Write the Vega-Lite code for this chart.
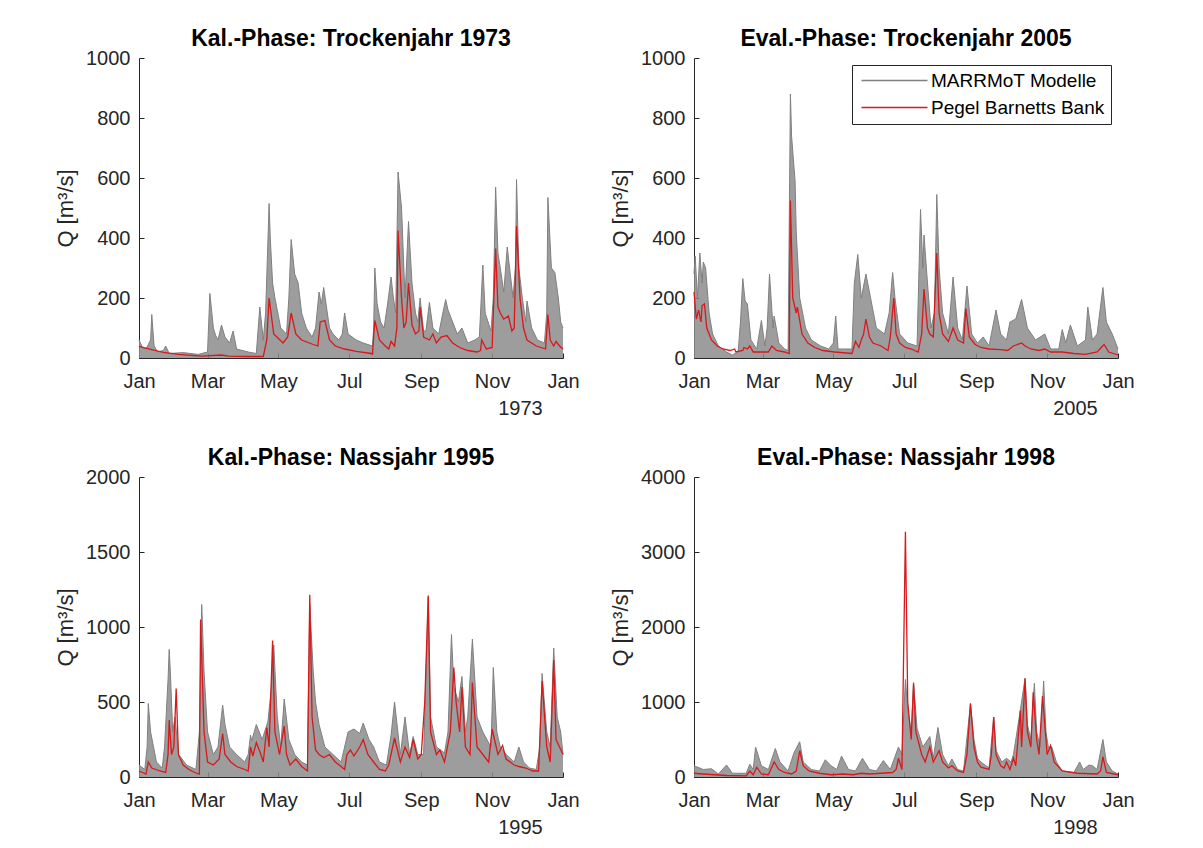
{
  "$schema": "https://vega.github.io/schema/vega-lite/v6.json",
  "autosize": {"type": "pad"},
  "padding": {"left": 54, "top": 28, "right": 10, "bottom": 10},
  "background": "white",
  "config": {
    "font": "Liberation Sans",
    "view": {"stroke": null},
    "axis": {
      "domainColor": "#262626", "tickColor": "#262626", "labelColor": "#262626", "titleColor": "#262626",
      "labelFont": "Liberation Sans", "labelFontSize": 20, "titleFont": "Liberation Sans", "titleFontSize": 22,
      "titleFontWeight": "normal", "grid": false, "tickSize": -5, "domainWidth": 1, "tickWidth": 1
    },
    "axisX": {"labelPadding": 18, "titleFontSize": 20, "titlePadding": 7, "titleX": 381, "titleAlign": "center", "labelFlush": false},
    "axisY": {"labelPadding": 14, "titlePadding": 8},
    "title": {"font": "Liberation Sans", "fontSize": 23, "fontWeight": "bold", "color": "#000000", "offset": -3, "frame": "group"}
  },
  "datasets": {
    "pegel": [
      {"jahr":1973,"tag":0,"q":39},{"jahr":1973,"tag":11,"q":28},{"jahr":1973,"tag":21,"q":19},{"jahr":1973,"tag":34,"q":12},{"jahr":1973,"tag":54,"q":6},{"jahr":1973,"tag":71,"q":10},{"jahr":1973,"tag":77,"q":6},{"jahr":1973,"tag":94,"q":5},{"jahr":1973,"tag":107,"q":5},{"jahr":1973,"tag":110,"q":60},{"jahr":1973,"tag":112,"q":200},{"jahr":1973,"tag":116,"q":80},{"jahr":1973,"tag":124,"q":50},{"jahr":1973,"tag":128,"q":70},{"jahr":1973,"tag":131,"q":150},{"jahr":1973,"tag":135,"q":80},{"jahr":1973,"tag":140,"q":60},{"jahr":1973,"tag":150,"q":45},{"jahr":1973,"tag":154,"q":40},{"jahr":1973,"tag":156,"q":120},{"jahr":1973,"tag":160,"q":125},{"jahr":1973,"tag":164,"q":60},{"jahr":1973,"tag":169,"q":40},{"jahr":1973,"tag":177,"q":30},{"jahr":1973,"tag":187,"q":22},{"jahr":1973,"tag":200,"q":15},{"jahr":1973,"tag":201,"q":13},{"jahr":1973,"tag":203,"q":125},{"jahr":1973,"tag":207,"q":60},{"jahr":1973,"tag":212,"q":40},{"jahr":1973,"tag":215,"q":30},{"jahr":1973,"tag":217,"q":55},{"jahr":1973,"tag":220,"q":40},{"jahr":1973,"tag":222,"q":100},{"jahr":1973,"tag":223,"q":425},{"jahr":1973,"tag":226,"q":200},{"jahr":1973,"tag":228,"q":100},{"jahr":1973,"tag":230,"q":120},{"jahr":1973,"tag":232,"q":250},{"jahr":1973,"tag":235,"q":110},{"jahr":1973,"tag":238,"q":80},{"jahr":1973,"tag":241,"q":90},{"jahr":1973,"tag":242,"q":170},{"jahr":1973,"tag":245,"q":70},{"jahr":1973,"tag":250,"q":60},{"jahr":1973,"tag":253,"q":80},{"jahr":1973,"tag":256,"q":50},{"jahr":1973,"tag":260,"q":70},{"jahr":1973,"tag":265,"q":75},{"jahr":1973,"tag":270,"q":50},{"jahr":1973,"tag":276,"q":35},{"jahr":1973,"tag":283,"q":25},{"jahr":1973,"tag":291,"q":20},{"jahr":1973,"tag":294,"q":25},{"jahr":1973,"tag":295,"q":60},{"jahr":1973,"tag":299,"q":30},{"jahr":1973,"tag":304,"q":35},{"jahr":1973,"tag":307,"q":365},{"jahr":1973,"tag":309,"q":170},{"jahr":1973,"tag":311,"q":150},{"jahr":1973,"tag":314,"q":130},{"jahr":1973,"tag":318,"q":140},{"jahr":1973,"tag":321,"q":90},{"jahr":1973,"tag":323,"q":100},{"jahr":1973,"tag":325,"q":440},{"jahr":1973,"tag":328,"q":200},{"jahr":1973,"tag":331,"q":100},{"jahr":1973,"tag":334,"q":60},{"jahr":1973,"tag":342,"q":40},{"jahr":1973,"tag":350,"q":30},{"jahr":1973,"tag":352,"q":145},{"jahr":1973,"tag":354,"q":60},{"jahr":1973,"tag":357,"q":40},{"jahr":1973,"tag":359,"q":55},{"jahr":1973,"tag":362,"q":40},{"jahr":1973,"tag":365,"q":30},
      {"jahr":2005,"tag":0,"q":220},{"jahr":2005,"tag":2,"q":130},{"jahr":2005,"tag":4,"q":160},{"jahr":2005,"tag":6,"q":120},{"jahr":2005,"tag":7,"q":175},{"jahr":2005,"tag":9,"q":180},{"jahr":2005,"tag":11,"q":100},{"jahr":2005,"tag":15,"q":60},{"jahr":2005,"tag":20,"q":40},{"jahr":2005,"tag":25,"q":30},{"jahr":2005,"tag":31,"q":25},{"jahr":2005,"tag":35,"q":30},{"jahr":2005,"tag":36,"q":20},{"jahr":2005,"tag":42,"q":25},{"jahr":2005,"tag":43,"q":35},{"jahr":2005,"tag":46,"q":30},{"jahr":2005,"tag":48,"q":40},{"jahr":2005,"tag":51,"q":20},{"jahr":2005,"tag":64,"q":20},{"jahr":2005,"tag":67,"q":40},{"jahr":2005,"tag":71,"q":25},{"jahr":2005,"tag":78,"q":20},{"jahr":2005,"tag":82,"q":15},{"jahr":2005,"tag":83,"q":525},{"jahr":2005,"tag":85,"q":200},{"jahr":2005,"tag":88,"q":150},{"jahr":2005,"tag":89,"q":170},{"jahr":2005,"tag":93,"q":80},{"jahr":2005,"tag":98,"q":50},{"jahr":2005,"tag":104,"q":35},{"jahr":2005,"tag":111,"q":25},{"jahr":2005,"tag":121,"q":20},{"jahr":2005,"tag":136,"q":15},{"jahr":2005,"tag":139,"q":55},{"jahr":2005,"tag":142,"q":35},{"jahr":2005,"tag":144,"q":60},{"jahr":2005,"tag":146,"q":80},{"jahr":2005,"tag":148,"q":130},{"jahr":2005,"tag":151,"q":70},{"jahr":2005,"tag":154,"q":50},{"jahr":2005,"tag":161,"q":40},{"jahr":2005,"tag":167,"q":25},{"jahr":2005,"tag":169,"q":70},{"jahr":2005,"tag":172,"q":200},{"jahr":2005,"tag":174,"q":80},{"jahr":2005,"tag":177,"q":50},{"jahr":2005,"tag":182,"q":35},{"jahr":2005,"tag":187,"q":30},{"jahr":2005,"tag":193,"q":20},{"jahr":2005,"tag":196,"q":80},{"jahr":2005,"tag":198,"q":230},{"jahr":2005,"tag":201,"q":100},{"jahr":2005,"tag":203,"q":80},{"jahr":2005,"tag":206,"q":70},{"jahr":2005,"tag":209,"q":350},{"jahr":2005,"tag":211,"q":150},{"jahr":2005,"tag":214,"q":80},{"jahr":2005,"tag":219,"q":55},{"jahr":2005,"tag":223,"q":100},{"jahr":2005,"tag":227,"q":60},{"jahr":2005,"tag":232,"q":50},{"jahr":2005,"tag":234,"q":165},{"jahr":2005,"tag":237,"q":70},{"jahr":2005,"tag":242,"q":45},{"jahr":2005,"tag":247,"q":35},{"jahr":2005,"tag":254,"q":30},{"jahr":2005,"tag":264,"q":28},{"jahr":2005,"tag":270,"q":25},{"jahr":2005,"tag":275,"q":40},{"jahr":2005,"tag":282,"q":50},{"jahr":2005,"tag":285,"q":40},{"jahr":2005,"tag":290,"q":30},{"jahr":2005,"tag":297,"q":25},{"jahr":2005,"tag":302,"q":30},{"jahr":2005,"tag":307,"q":20},{"jahr":2005,"tag":317,"q":20},{"jahr":2005,"tag":327,"q":15},{"jahr":2005,"tag":337,"q":12},{"jahr":2005,"tag":347,"q":20},{"jahr":2005,"tag":353,"q":45},{"jahr":2005,"tag":357,"q":20},{"jahr":2005,"tag":365,"q":10},
      {"jahr":1995,"tag":0,"q":40},{"jahr":1995,"tag":3,"q":30},{"jahr":1995,"tag":6,"q":20},{"jahr":1995,"tag":8,"q":100},{"jahr":1995,"tag":11,"q":60},{"jahr":1995,"tag":18,"q":40},{"jahr":1995,"tag":23,"q":30},{"jahr":1995,"tag":25,"q":150},{"jahr":1995,"tag":26,"q":380},{"jahr":1995,"tag":28,"q":150},{"jahr":1995,"tag":30,"q":200},{"jahr":1995,"tag":32,"q":590},{"jahr":1995,"tag":34,"q":150},{"jahr":1995,"tag":38,"q":80},{"jahr":1995,"tag":43,"q":50},{"jahr":1995,"tag":48,"q":30},{"jahr":1995,"tag":52,"q":20},{"jahr":1995,"tag":53,"q":1050},{"jahr":1995,"tag":56,"q":300},{"jahr":1995,"tag":59,"q":100},{"jahr":1995,"tag":64,"q":80},{"jahr":1995,"tag":69,"q":120},{"jahr":1995,"tag":72,"q":290},{"jahr":1995,"tag":74,"q":150},{"jahr":1995,"tag":79,"q":100},{"jahr":1995,"tag":84,"q":70},{"jahr":1995,"tag":91,"q":50},{"jahr":1995,"tag":94,"q":40},{"jahr":1995,"tag":96,"q":200},{"jahr":1995,"tag":98,"q":140},{"jahr":1995,"tag":101,"q":230},{"jahr":1995,"tag":104,"q":170},{"jahr":1995,"tag":107,"q":100},{"jahr":1995,"tag":110,"q":330},{"jahr":1995,"tag":112,"q":200},{"jahr":1995,"tag":115,"q":910},{"jahr":1995,"tag":117,"q":300},{"jahr":1995,"tag":121,"q":150},{"jahr":1995,"tag":125,"q":340},{"jahr":1995,"tag":127,"q":150},{"jahr":1995,"tag":130,"q":80},{"jahr":1995,"tag":135,"q":120},{"jahr":1995,"tag":140,"q":70},{"jahr":1995,"tag":145,"q":40},{"jahr":1995,"tag":147,"q":1215},{"jahr":1995,"tag":149,"q":400},{"jahr":1995,"tag":152,"q":180},{"jahr":1995,"tag":155,"q":150},{"jahr":1995,"tag":159,"q":130},{"jahr":1995,"tag":164,"q":150},{"jahr":1995,"tag":169,"q":100},{"jahr":1995,"tag":174,"q":70},{"jahr":1995,"tag":177,"q":50},{"jahr":1995,"tag":179,"q":150},{"jahr":1995,"tag":182,"q":180},{"jahr":1995,"tag":185,"q":140},{"jahr":1995,"tag":190,"q":200},{"jahr":1995,"tag":193,"q":250},{"jahr":1995,"tag":197,"q":150},{"jahr":1995,"tag":202,"q":100},{"jahr":1995,"tag":207,"q":50},{"jahr":1995,"tag":212,"q":40},{"jahr":1995,"tag":215,"q":80},{"jahr":1995,"tag":220,"q":260},{"jahr":1995,"tag":225,"q":100},{"jahr":1995,"tag":229,"q":200},{"jahr":1995,"tag":233,"q":130},{"jahr":1995,"tag":236,"q":250},{"jahr":1995,"tag":240,"q":120},{"jahr":1995,"tag":243,"q":150},{"jahr":1995,"tag":246,"q":500},{"jahr":1995,"tag":249,"q":1210},{"jahr":1995,"tag":251,"q":300},{"jahr":1995,"tag":256,"q":150},{"jahr":1995,"tag":259,"q":180},{"jahr":1995,"tag":263,"q":100},{"jahr":1995,"tag":268,"q":300},{"jahr":1995,"tag":271,"q":730},{"jahr":1995,"tag":273,"q":500},{"jahr":1995,"tag":276,"q":300},{"jahr":1995,"tag":278,"q":600},{"jahr":1995,"tag":281,"q":200},{"jahr":1995,"tag":285,"q":150},{"jahr":1995,"tag":287,"q":630},{"jahr":1995,"tag":291,"q":200},{"jahr":1995,"tag":296,"q":150},{"jahr":1995,"tag":301,"q":100},{"jahr":1995,"tag":304,"q":320},{"jahr":1995,"tag":306,"q":250},{"jahr":1995,"tag":309,"q":150},{"jahr":1995,"tag":313,"q":210},{"jahr":1995,"tag":316,"q":120},{"jahr":1995,"tag":323,"q":80},{"jahr":1995,"tag":327,"q":70},{"jahr":1995,"tag":333,"q":60},{"jahr":1995,"tag":339,"q":40},{"jahr":1995,"tag":344,"q":40},{"jahr":1995,"tag":347,"q":640},{"jahr":1995,"tag":351,"q":200},{"jahr":1995,"tag":354,"q":100},{"jahr":1995,"tag":357,"q":780},{"jahr":1995,"tag":359,"q":250},{"jahr":1995,"tag":362,"q":200},{"jahr":1995,"tag":365,"q":150},
      {"jahr":1998,"tag":0,"q":50},{"jahr":1998,"tag":8,"q":40},{"jahr":1998,"tag":18,"q":30},{"jahr":1998,"tag":28,"q":20},{"jahr":1998,"tag":45,"q":15},{"jahr":1998,"tag":48,"q":80},{"jahr":1998,"tag":51,"q":30},{"jahr":1998,"tag":54,"q":130},{"jahr":1998,"tag":58,"q":40},{"jahr":1998,"tag":64,"q":30},{"jahr":1998,"tag":69,"q":200},{"jahr":1998,"tag":73,"q":100},{"jahr":1998,"tag":78,"q":60},{"jahr":1998,"tag":84,"q":40},{"jahr":1998,"tag":88,"q":80},{"jahr":1998,"tag":91,"q":350},{"jahr":1998,"tag":94,"q":150},{"jahr":1998,"tag":99,"q":80},{"jahr":1998,"tag":108,"q":50},{"jahr":1998,"tag":118,"q":30},{"jahr":1998,"tag":128,"q":40},{"jahr":1998,"tag":137,"q":30},{"jahr":1998,"tag":144,"q":50},{"jahr":1998,"tag":151,"q":40},{"jahr":1998,"tag":161,"q":50},{"jahr":1998,"tag":171,"q":60},{"jahr":1998,"tag":174,"q":100},{"jahr":1998,"tag":176,"q":250},{"jahr":1998,"tag":179,"q":100},{"jahr":1998,"tag":182,"q":3270},{"jahr":1998,"tag":184,"q":1000},{"jahr":1998,"tag":187,"q":500},{"jahr":1998,"tag":189,"q":1250},{"jahr":1998,"tag":191,"q":600},{"jahr":1998,"tag":196,"q":300},{"jahr":1998,"tag":199,"q":200},{"jahr":1998,"tag":203,"q":400},{"jahr":1998,"tag":206,"q":200},{"jahr":1998,"tag":211,"q":350},{"jahr":1998,"tag":214,"q":200},{"jahr":1998,"tag":219,"q":120},{"jahr":1998,"tag":222,"q":150},{"jahr":1998,"tag":227,"q":80},{"jahr":1998,"tag":232,"q":60},{"jahr":1998,"tag":235,"q":300},{"jahr":1998,"tag":238,"q":980},{"jahr":1998,"tag":241,"q":400},{"jahr":1998,"tag":244,"q":200},{"jahr":1998,"tag":247,"q":130},{"jahr":1998,"tag":254,"q":100},{"jahr":1998,"tag":256,"q":300},{"jahr":1998,"tag":258,"q":800},{"jahr":1998,"tag":260,"q":300},{"jahr":1998,"tag":264,"q":150},{"jahr":1998,"tag":267,"q":120},{"jahr":1998,"tag":269,"q":200},{"jahr":1998,"tag":272,"q":100},{"jahr":1998,"tag":275,"q":250},{"jahr":1998,"tag":277,"q":150},{"jahr":1998,"tag":281,"q":890},{"jahr":1998,"tag":282,"q":400},{"jahr":1998,"tag":285,"q":1310},{"jahr":1998,"tag":287,"q":600},{"jahr":1998,"tag":290,"q":400},{"jahr":1998,"tag":292,"q":1130},{"jahr":1998,"tag":295,"q":500},{"jahr":1998,"tag":297,"q":300},{"jahr":1998,"tag":300,"q":1080},{"jahr":1998,"tag":303,"q":500},{"jahr":1998,"tag":304,"q":300},{"jahr":1998,"tag":307,"q":420},{"jahr":1998,"tag":310,"q":200},{"jahr":1998,"tag":317,"q":80},{"jahr":1998,"tag":330,"q":50},{"jahr":1998,"tag":347,"q":40},{"jahr":1998,"tag":350,"q":80},{"jahr":1998,"tag":352,"q":270},{"jahr":1998,"tag":355,"q":60},{"jahr":1998,"tag":365,"q":30}
    ],
    "modelle": [
      {"jahr":1973,"tag":0,"q":60},{"jahr":1973,"tag":3,"q":35},{"jahr":1973,"tag":6,"q":30},{"jahr":1973,"tag":10,"q":60},{"jahr":1973,"tag":11,"q":145},{"jahr":1973,"tag":13,"q":40},{"jahr":1973,"tag":16,"q":20},{"jahr":1973,"tag":21,"q":25},{"jahr":1973,"tag":23,"q":40},{"jahr":1973,"tag":26,"q":15},{"jahr":1973,"tag":38,"q":18},{"jahr":1973,"tag":51,"q":12},{"jahr":1973,"tag":59,"q":20},{"jahr":1973,"tag":61,"q":215},{"jahr":1973,"tag":64,"q":100},{"jahr":1973,"tag":66,"q":75},{"jahr":1973,"tag":68,"q":60},{"jahr":1973,"tag":71,"q":110},{"jahr":1973,"tag":74,"q":70},{"jahr":1973,"tag":78,"q":50},{"jahr":1973,"tag":81,"q":90},{"jahr":1973,"tag":84,"q":30},{"jahr":1973,"tag":94,"q":20},{"jahr":1973,"tag":101,"q":15},{"jahr":1973,"tag":104,"q":170},{"jahr":1973,"tag":107,"q":60},{"jahr":1973,"tag":109,"q":150},{"jahr":1973,"tag":112,"q":515},{"jahr":1973,"tag":113,"q":400},{"jahr":1973,"tag":115,"q":250},{"jahr":1973,"tag":117,"q":200},{"jahr":1973,"tag":122,"q":100},{"jahr":1973,"tag":127,"q":80},{"jahr":1973,"tag":129,"q":200},{"jahr":1973,"tag":131,"q":395},{"jahr":1973,"tag":134,"q":280},{"jahr":1973,"tag":137,"q":250},{"jahr":1973,"tag":140,"q":150},{"jahr":1973,"tag":144,"q":100},{"jahr":1973,"tag":149,"q":70},{"jahr":1973,"tag":152,"q":100},{"jahr":1973,"tag":155,"q":220},{"jahr":1973,"tag":157,"q":180},{"jahr":1973,"tag":159,"q":235},{"jahr":1973,"tag":161,"q":180},{"jahr":1973,"tag":164,"q":100},{"jahr":1973,"tag":167,"q":80},{"jahr":1973,"tag":172,"q":60},{"jahr":1973,"tag":175,"q":80},{"jahr":1973,"tag":177,"q":150},{"jahr":1973,"tag":180,"q":80},{"jahr":1973,"tag":187,"q":60},{"jahr":1973,"tag":193,"q":50},{"jahr":1973,"tag":201,"q":40},{"jahr":1973,"tag":202,"q":100},{"jahr":1973,"tag":203,"q":300},{"jahr":1973,"tag":205,"q":180},{"jahr":1973,"tag":208,"q":120},{"jahr":1973,"tag":211,"q":100},{"jahr":1973,"tag":214,"q":180},{"jahr":1973,"tag":217,"q":270},{"jahr":1973,"tag":219,"q":200},{"jahr":1973,"tag":221,"q":150},{"jahr":1973,"tag":223,"q":620},{"jahr":1973,"tag":226,"q":500},{"jahr":1973,"tag":228,"q":300},{"jahr":1973,"tag":229,"q":200},{"jahr":1973,"tag":232,"q":455},{"jahr":1973,"tag":235,"q":250},{"jahr":1973,"tag":238,"q":150},{"jahr":1973,"tag":240,"q":120},{"jahr":1973,"tag":242,"q":200},{"jahr":1973,"tag":245,"q":90},{"jahr":1973,"tag":247,"q":90},{"jahr":1973,"tag":250,"q":185},{"jahr":1973,"tag":253,"q":100},{"jahr":1973,"tag":258,"q":80},{"jahr":1973,"tag":261,"q":140},{"jahr":1973,"tag":264,"q":195},{"jahr":1973,"tag":266,"q":160},{"jahr":1973,"tag":270,"q":120},{"jahr":1973,"tag":274,"q":80},{"jahr":1973,"tag":278,"q":100},{"jahr":1973,"tag":283,"q":50},{"jahr":1973,"tag":289,"q":60},{"jahr":1973,"tag":293,"q":70},{"jahr":1973,"tag":296,"q":310},{"jahr":1973,"tag":298,"q":150},{"jahr":1973,"tag":303,"q":90},{"jahr":1973,"tag":305,"q":200},{"jahr":1973,"tag":307,"q":570},{"jahr":1973,"tag":309,"q":350},{"jahr":1973,"tag":311,"q":300},{"jahr":1973,"tag":314,"q":220},{"jahr":1973,"tag":317,"q":370},{"jahr":1973,"tag":319,"q":300},{"jahr":1973,"tag":322,"q":200},{"jahr":1973,"tag":324,"q":300},{"jahr":1973,"tag":325,"q":595},{"jahr":1973,"tag":327,"q":300},{"jahr":1973,"tag":330,"q":200},{"jahr":1973,"tag":333,"q":120},{"jahr":1973,"tag":334,"q":190},{"jahr":1973,"tag":338,"q":100},{"jahr":1973,"tag":343,"q":60},{"jahr":1973,"tag":349,"q":50},{"jahr":1973,"tag":351,"q":150},{"jahr":1973,"tag":352,"q":535},{"jahr":1973,"tag":355,"q":300},{"jahr":1973,"tag":358,"q":285},{"jahr":1973,"tag":361,"q":200},{"jahr":1973,"tag":363,"q":120},{"jahr":1973,"tag":365,"q":100},
      {"jahr":2005,"tag":0,"q":280},{"jahr":2005,"tag":1,"q":340},{"jahr":2005,"tag":3,"q":200},{"jahr":2005,"tag":5,"q":350},{"jahr":2005,"tag":7,"q":250},{"jahr":2005,"tag":8,"q":320},{"jahr":2005,"tag":10,"q":300},{"jahr":2005,"tag":13,"q":150},{"jahr":2005,"tag":16,"q":80},{"jahr":2005,"tag":21,"q":40},{"jahr":2005,"tag":28,"q":20},{"jahr":2005,"tag":33,"q":10},{"jahr":2005,"tag":38,"q":20},{"jahr":2005,"tag":40,"q":120},{"jahr":2005,"tag":42,"q":265},{"jahr":2005,"tag":44,"q":190},{"jahr":2005,"tag":46,"q":180},{"jahr":2005,"tag":49,"q":60},{"jahr":2005,"tag":54,"q":30},{"jahr":2005,"tag":58,"q":125},{"jahr":2005,"tag":61,"q":40},{"jahr":2005,"tag":63,"q":100},{"jahr":2005,"tag":65,"q":280},{"jahr":2005,"tag":68,"q":100},{"jahr":2005,"tag":69,"q":140},{"jahr":2005,"tag":73,"q":50},{"jahr":2005,"tag":78,"q":30},{"jahr":2005,"tag":81,"q":25},{"jahr":2005,"tag":83,"q":880},{"jahr":2005,"tag":84,"q":740},{"jahr":2005,"tag":87,"q":590},{"jahr":2005,"tag":88,"q":420},{"jahr":2005,"tag":91,"q":200},{"jahr":2005,"tag":96,"q":100},{"jahr":2005,"tag":101,"q":60},{"jahr":2005,"tag":109,"q":40},{"jahr":2005,"tag":116,"q":30},{"jahr":2005,"tag":120,"q":50},{"jahr":2005,"tag":122,"q":140},{"jahr":2005,"tag":124,"q":30},{"jahr":2005,"tag":136,"q":30},{"jahr":2005,"tag":138,"q":250},{"jahr":2005,"tag":141,"q":345},{"jahr":2005,"tag":144,"q":200},{"jahr":2005,"tag":148,"q":280},{"jahr":2005,"tag":152,"q":200},{"jahr":2005,"tag":157,"q":100},{"jahr":2005,"tag":164,"q":80},{"jahr":2005,"tag":168,"q":150},{"jahr":2005,"tag":171,"q":285},{"jahr":2005,"tag":173,"q":200},{"jahr":2005,"tag":177,"q":80},{"jahr":2005,"tag":184,"q":50},{"jahr":2005,"tag":192,"q":40},{"jahr":2005,"tag":195,"q":495},{"jahr":2005,"tag":197,"q":300},{"jahr":2005,"tag":198,"q":410},{"jahr":2005,"tag":201,"q":250},{"jahr":2005,"tag":204,"q":100},{"jahr":2005,"tag":207,"q":150},{"jahr":2005,"tag":209,"q":545},{"jahr":2005,"tag":211,"q":300},{"jahr":2005,"tag":214,"q":150},{"jahr":2005,"tag":219,"q":80},{"jahr":2005,"tag":223,"q":270},{"jahr":2005,"tag":227,"q":100},{"jahr":2005,"tag":231,"q":60},{"jahr":2005,"tag":235,"q":240},{"jahr":2005,"tag":239,"q":80},{"jahr":2005,"tag":244,"q":50},{"jahr":2005,"tag":249,"q":70},{"jahr":2005,"tag":254,"q":40},{"jahr":2005,"tag":260,"q":160},{"jahr":2005,"tag":264,"q":80},{"jahr":2005,"tag":269,"q":60},{"jahr":2005,"tag":272,"q":120},{"jahr":2005,"tag":277,"q":130},{"jahr":2005,"tag":282,"q":195},{"jahr":2005,"tag":287,"q":100},{"jahr":2005,"tag":294,"q":60},{"jahr":2005,"tag":302,"q":80},{"jahr":2005,"tag":307,"q":30},{"jahr":2005,"tag":314,"q":30},{"jahr":2005,"tag":317,"q":95},{"jahr":2005,"tag":320,"q":50},{"jahr":2005,"tag":324,"q":110},{"jahr":2005,"tag":330,"q":40},{"jahr":2005,"tag":337,"q":60},{"jahr":2005,"tag":339,"q":170},{"jahr":2005,"tag":343,"q":60},{"jahr":2005,"tag":347,"q":80},{"jahr":2005,"tag":352,"q":235},{"jahr":2005,"tag":355,"q":120},{"jahr":2005,"tag":360,"q":80},{"jahr":2005,"tag":365,"q":30},
      {"jahr":1995,"tag":0,"q":80},{"jahr":1995,"tag":5,"q":50},{"jahr":1995,"tag":7,"q":200},{"jahr":1995,"tag":8,"q":490},{"jahr":1995,"tag":10,"q":300},{"jahr":1995,"tag":15,"q":100},{"jahr":1995,"tag":20,"q":60},{"jahr":1995,"tag":22,"q":200},{"jahr":1995,"tag":25,"q":650},{"jahr":1995,"tag":26,"q":850},{"jahr":1995,"tag":27,"q":700},{"jahr":1995,"tag":29,"q":300},{"jahr":1995,"tag":31,"q":400},{"jahr":1995,"tag":34,"q":150},{"jahr":1995,"tag":41,"q":80},{"jahr":1995,"tag":49,"q":50},{"jahr":1995,"tag":52,"q":300},{"jahr":1995,"tag":54,"q":1150},{"jahr":1995,"tag":56,"q":700},{"jahr":1995,"tag":59,"q":300},{"jahr":1995,"tag":64,"q":150},{"jahr":1995,"tag":68,"q":200},{"jahr":1995,"tag":72,"q":480},{"jahr":1995,"tag":74,"q":350},{"jahr":1995,"tag":78,"q":200},{"jahr":1995,"tag":84,"q":150},{"jahr":1995,"tag":91,"q":100},{"jahr":1995,"tag":94,"q":150},{"jahr":1995,"tag":96,"q":280},{"jahr":1995,"tag":97,"q":240},{"jahr":1995,"tag":101,"q":350},{"jahr":1995,"tag":106,"q":250},{"jahr":1995,"tag":111,"q":370},{"jahr":1995,"tag":114,"q":600},{"jahr":1995,"tag":116,"q":880},{"jahr":1995,"tag":119,"q":400},{"jahr":1995,"tag":122,"q":200},{"jahr":1995,"tag":125,"q":520},{"jahr":1995,"tag":129,"q":250},{"jahr":1995,"tag":134,"q":150},{"jahr":1995,"tag":140,"q":100},{"jahr":1995,"tag":145,"q":80},{"jahr":1995,"tag":147,"q":1150},{"jahr":1995,"tag":150,"q":700},{"jahr":1995,"tag":152,"q":500},{"jahr":1995,"tag":155,"q":350},{"jahr":1995,"tag":160,"q":200},{"jahr":1995,"tag":167,"q":150},{"jahr":1995,"tag":174,"q":100},{"jahr":1995,"tag":177,"q":200},{"jahr":1995,"tag":180,"q":300},{"jahr":1995,"tag":185,"q":320},{"jahr":1995,"tag":190,"q":290},{"jahr":1995,"tag":193,"q":360},{"jahr":1995,"tag":198,"q":250},{"jahr":1995,"tag":202,"q":200},{"jahr":1995,"tag":207,"q":100},{"jahr":1995,"tag":213,"q":80},{"jahr":1995,"tag":217,"q":280},{"jahr":1995,"tag":220,"q":500},{"jahr":1995,"tag":225,"q":150},{"jahr":1995,"tag":229,"q":400},{"jahr":1995,"tag":233,"q":150},{"jahr":1995,"tag":236,"q":270},{"jahr":1995,"tag":240,"q":150},{"jahr":1995,"tag":245,"q":150},{"jahr":1995,"tag":246,"q":400},{"jahr":1995,"tag":249,"q":1200},{"jahr":1995,"tag":251,"q":400},{"jahr":1995,"tag":256,"q":200},{"jahr":1995,"tag":263,"q":160},{"jahr":1995,"tag":266,"q":300},{"jahr":1995,"tag":269,"q":950},{"jahr":1995,"tag":271,"q":600},{"jahr":1995,"tag":275,"q":500},{"jahr":1995,"tag":278,"q":670},{"jahr":1995,"tag":281,"q":300},{"jahr":1995,"tag":283,"q":400},{"jahr":1995,"tag":287,"q":920},{"jahr":1995,"tag":291,"q":400},{"jahr":1995,"tag":296,"q":300},{"jahr":1995,"tag":303,"q":200},{"jahr":1995,"tag":305,"q":730},{"jahr":1995,"tag":308,"q":300},{"jahr":1995,"tag":311,"q":200},{"jahr":1995,"tag":316,"q":150},{"jahr":1995,"tag":323,"q":100},{"jahr":1995,"tag":327,"q":200},{"jahr":1995,"tag":331,"q":100},{"jahr":1995,"tag":336,"q":60},{"jahr":1995,"tag":342,"q":50},{"jahr":1995,"tag":345,"q":200},{"jahr":1995,"tag":347,"q":690},{"jahr":1995,"tag":351,"q":300},{"jahr":1995,"tag":354,"q":200},{"jahr":1995,"tag":357,"q":860},{"jahr":1995,"tag":360,"q":400},{"jahr":1995,"tag":363,"q":300},{"jahr":1995,"tag":365,"q":150},
      {"jahr":1998,"tag":0,"q":150},{"jahr":1998,"tag":8,"q":100},{"jahr":1998,"tag":15,"q":110},{"jahr":1998,"tag":21,"q":40},{"jahr":1998,"tag":28,"q":160},{"jahr":1998,"tag":33,"q":50},{"jahr":1998,"tag":45,"q":50},{"jahr":1998,"tag":48,"q":170},{"jahr":1998,"tag":51,"q":100},{"jahr":1998,"tag":53,"q":400},{"jahr":1998,"tag":58,"q":150},{"jahr":1998,"tag":64,"q":100},{"jahr":1998,"tag":70,"q":380},{"jahr":1998,"tag":74,"q":200},{"jahr":1998,"tag":81,"q":80},{"jahr":1998,"tag":86,"q":320},{"jahr":1998,"tag":91,"q":470},{"jahr":1998,"tag":94,"q":200},{"jahr":1998,"tag":101,"q":100},{"jahr":1998,"tag":108,"q":80},{"jahr":1998,"tag":113,"q":230},{"jahr":1998,"tag":118,"q":150},{"jahr":1998,"tag":123,"q":100},{"jahr":1998,"tag":127,"q":280},{"jahr":1998,"tag":133,"q":100},{"jahr":1998,"tag":139,"q":80},{"jahr":1998,"tag":145,"q":250},{"jahr":1998,"tag":151,"q":100},{"jahr":1998,"tag":157,"q":80},{"jahr":1998,"tag":163,"q":220},{"jahr":1998,"tag":169,"q":100},{"jahr":1998,"tag":176,"q":400},{"jahr":1998,"tag":179,"q":300},{"jahr":1998,"tag":182,"q":1300},{"jahr":1998,"tag":184,"q":900},{"jahr":1998,"tag":187,"q":600},{"jahr":1998,"tag":189,"q":1260},{"jahr":1998,"tag":192,"q":650},{"jahr":1998,"tag":197,"q":400},{"jahr":1998,"tag":203,"q":540},{"jahr":1998,"tag":206,"q":250},{"jahr":1998,"tag":210,"q":660},{"jahr":1998,"tag":214,"q":300},{"jahr":1998,"tag":219,"q":150},{"jahr":1998,"tag":222,"q":240},{"jahr":1998,"tag":227,"q":100},{"jahr":1998,"tag":232,"q":80},{"jahr":1998,"tag":238,"q":980},{"jahr":1998,"tag":241,"q":500},{"jahr":1998,"tag":244,"q":250},{"jahr":1998,"tag":247,"q":200},{"jahr":1998,"tag":254,"q":120},{"jahr":1998,"tag":258,"q":800},{"jahr":1998,"tag":260,"q":350},{"jahr":1998,"tag":265,"q":200},{"jahr":1998,"tag":269,"q":250},{"jahr":1998,"tag":273,"q":200},{"jahr":1998,"tag":275,"q":300},{"jahr":1998,"tag":281,"q":900},{"jahr":1998,"tag":285,"q":1320},{"jahr":1998,"tag":287,"q":700},{"jahr":1998,"tag":290,"q":500},{"jahr":1998,"tag":293,"q":1250},{"jahr":1998,"tag":295,"q":600},{"jahr":1998,"tag":298,"q":400},{"jahr":1998,"tag":301,"q":1280},{"jahr":1998,"tag":303,"q":600},{"jahr":1998,"tag":305,"q":400},{"jahr":1998,"tag":308,"q":400},{"jahr":1998,"tag":312,"q":200},{"jahr":1998,"tag":317,"q":80},{"jahr":1998,"tag":327,"q":60},{"jahr":1998,"tag":332,"q":200},{"jahr":1998,"tag":335,"q":100},{"jahr":1998,"tag":340,"q":160},{"jahr":1998,"tag":343,"q":150},{"jahr":1998,"tag":347,"q":100},{"jahr":1998,"tag":352,"q":500},{"jahr":1998,"tag":355,"q":200},{"jahr":1998,"tag":360,"q":80},{"jahr":1998,"tag":365,"q":40}
    ]
  },
  "columns": 2,
  "spacing": {"row": 119, "column": 131},
  "bounds": "flush",
  "resolve": {"scale": {"color": "independent"}, "legend": {"color": "independent"}},
  "concat": [
    {
      "width": 424, "height": 300,
      "title": "Kal.-Phase: Trockenjahr 1973",
      "layer": [
        {
          "data": {"name": "modelle"}, "transform": [{"filter": "datum.jahr == 1973"}],
          "mark": {"type": "area", "color": "#8c8c8c", "opacity": 0.85},
          "encoding": {
            "x": {"field": "tag", "type": "quantitative", "scale": {"domain": [0, 365], "nice": false},
              "axis": {"values": [0,31,59,90,120,151,181,212,243,273,304,334,365],
                "labelExpr": "datum.value == 0 || datum.value == 365 ? 'Jan' : datum.value == 59 ? 'Mar' : datum.value == 120 ? 'May' : datum.value == 181 ? 'Jul' : datum.value == 243 ? 'Sep' : datum.value == 304 ? 'Nov' : ''",
                "title": "1973"}},
            "y": {"field": "q", "type": "quantitative", "scale": {"domain": [0, 1000], "nice": false},
              "axis": {"values": [0,200,400,600,800,1000], "format": "d", "title": "Q [m³/s]"}}
          }
        },
        {
          "data": {"name": "modelle"}, "transform": [{"filter": "datum.jahr == 1973"}],
          "mark": {"type": "line", "color": "#808080", "strokeWidth": 1},
          "encoding": {"x": {"field": "tag", "type": "quantitative"}, "y": {"field": "q", "type": "quantitative"}}
        },
        {
          "data": {"name": "pegel"}, "transform": [{"filter": "datum.jahr == 1973"}],
          "mark": {"type": "line", "color": "#d7191c", "strokeWidth": 1.3},
          "encoding": {"x": {"field": "tag", "type": "quantitative"}, "y": {"field": "q", "type": "quantitative"}}
        }
      ]
    },
    {
      "width": 424, "height": 300,
      "title": "Eval.-Phase: Trockenjahr 2005",
      "layer": [
        {
          "data": {"name": "modelle"}, "transform": [{"filter": "datum.jahr == 2005"}],
          "mark": {"type": "area", "color": "#8c8c8c", "opacity": 0.85},
          "encoding": {
            "x": {"field": "tag", "type": "quantitative", "scale": {"domain": [0, 365], "nice": false},
              "axis": {"values": [0,31,59,90,120,151,181,212,243,273,304,334,365],
                "labelExpr": "datum.value == 0 || datum.value == 365 ? 'Jan' : datum.value == 59 ? 'Mar' : datum.value == 120 ? 'May' : datum.value == 181 ? 'Jul' : datum.value == 243 ? 'Sep' : datum.value == 304 ? 'Nov' : ''",
                "title": "2005"}},
            "y": {"field": "q", "type": "quantitative", "scale": {"domain": [0, 1000], "nice": false},
              "axis": {"values": [0,200,400,600,800,1000], "format": "d", "title": "Q [m³/s]"}}
          }
        },
        {
          "data": {"name": "modelle"}, "transform": [{"filter": "datum.jahr == 2005"}],
          "mark": {"type": "line", "strokeWidth": 1},
          "encoding": {"x": {"field": "tag", "type": "quantitative"}, "y": {"field": "q", "type": "quantitative"},
            "color": {"datum": "MARRMoT Modelle", "type": "nominal",
              "scale": {"domain": ["MARRMoT Modelle", "Pegel Barnetts Bank"], "range": ["#808080", "#d7191c"]},
              "legend": {"title": null, "orient": "top-right", "offset": 7, "symbolType": "M-1,0H10", "symbolSize": 144,
                "symbolStrokeWidth": 1.3, "labelOffset": 54, "labelFontSize": 19, "labelLimit": 400, "labelFont": "Liberation Sans", "labelColor": "#000000",
                "padding": 6, "rowPadding": 7, "strokeColor": "#262626", "fillColor": "#ffffff"}}}
        },
        {
          "data": {"name": "pegel"}, "transform": [{"filter": "datum.jahr == 2005"}],
          "mark": {"type": "line", "strokeWidth": 1.3},
          "encoding": {"x": {"field": "tag", "type": "quantitative"}, "y": {"field": "q", "type": "quantitative"},
            "color": {"datum": "Pegel Barnetts Bank", "type": "nominal"}}
        }
      ]
    },
    {
      "width": 424, "height": 300,
      "title": "Kal.-Phase: Nassjahr 1995",
      "layer": [
        {
          "data": {"name": "modelle"}, "transform": [{"filter": "datum.jahr == 1995"}],
          "mark": {"type": "area", "color": "#8c8c8c", "opacity": 0.85},
          "encoding": {
            "x": {"field": "tag", "type": "quantitative", "scale": {"domain": [0, 365], "nice": false},
              "axis": {"values": [0,31,59,90,120,151,181,212,243,273,304,334,365],
                "labelExpr": "datum.value == 0 || datum.value == 365 ? 'Jan' : datum.value == 59 ? 'Mar' : datum.value == 120 ? 'May' : datum.value == 181 ? 'Jul' : datum.value == 243 ? 'Sep' : datum.value == 304 ? 'Nov' : ''",
                "title": "1995"}},
            "y": {"field": "q", "type": "quantitative", "scale": {"domain": [0, 2000], "nice": false},
              "axis": {"values": [0,500,1000,1500,2000], "format": "d", "title": "Q [m³/s]"}}
          }
        },
        {
          "data": {"name": "modelle"}, "transform": [{"filter": "datum.jahr == 1995"}],
          "mark": {"type": "line", "color": "#808080", "strokeWidth": 1},
          "encoding": {"x": {"field": "tag", "type": "quantitative"}, "y": {"field": "q", "type": "quantitative"}}
        },
        {
          "data": {"name": "pegel"}, "transform": [{"filter": "datum.jahr == 1995"}],
          "mark": {"type": "line", "color": "#d7191c", "strokeWidth": 1.3},
          "encoding": {"x": {"field": "tag", "type": "quantitative"}, "y": {"field": "q", "type": "quantitative"}}
        }
      ]
    },
    {
      "width": 424, "height": 300,
      "title": "Eval.-Phase: Nassjahr 1998",
      "layer": [
        {
          "data": {"name": "modelle"}, "transform": [{"filter": "datum.jahr == 1998"}],
          "mark": {"type": "area", "color": "#8c8c8c", "opacity": 0.85},
          "encoding": {
            "x": {"field": "tag", "type": "quantitative", "scale": {"domain": [0, 365], "nice": false},
              "axis": {"values": [0,31,59,90,120,151,181,212,243,273,304,334,365],
                "labelExpr": "datum.value == 0 || datum.value == 365 ? 'Jan' : datum.value == 59 ? 'Mar' : datum.value == 120 ? 'May' : datum.value == 181 ? 'Jul' : datum.value == 243 ? 'Sep' : datum.value == 304 ? 'Nov' : ''",
                "title": "1998"}},
            "y": {"field": "q", "type": "quantitative", "scale": {"domain": [0, 4000], "nice": false},
              "axis": {"values": [0,1000,2000,3000,4000], "format": "d", "title": "Q [m³/s]"}}
          }
        },
        {
          "data": {"name": "modelle"}, "transform": [{"filter": "datum.jahr == 1998"}],
          "mark": {"type": "line", "color": "#808080", "strokeWidth": 1},
          "encoding": {"x": {"field": "tag", "type": "quantitative"}, "y": {"field": "q", "type": "quantitative"}}
        },
        {
          "data": {"name": "pegel"}, "transform": [{"filter": "datum.jahr == 1998"}],
          "mark": {"type": "line", "color": "#d7191c", "strokeWidth": 1.3},
          "encoding": {"x": {"field": "tag", "type": "quantitative"}, "y": {"field": "q", "type": "quantitative"}}
        }
      ]
    }
  ]
}
